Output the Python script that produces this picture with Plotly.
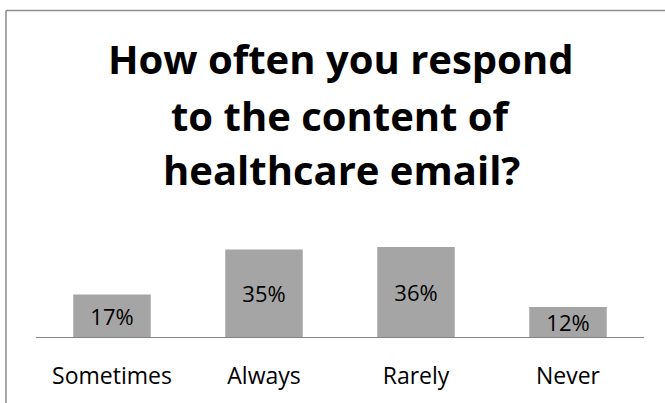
import plotly.graph_objects as go

categories = ["Sometimes", "Always", "Rarely", "Never"]
values = [17, 35, 36, 12]
labels = [f"{v}%" for v in values]

title_lines = ["How often you respond", "to the content of", "healthcare email?"]
title_centers_px = [54.5, 113.5, 168.5]

W, H = 665, 403
ml, mr, mt, mb = 36, 21, 237, 64
pw = W - ml - mr
ph = H - mt - mb

fig = go.Figure(
    go.Bar(
        x=categories,
        y=values,
        text=labels,
        textposition="inside",
        insidetextanchor="middle",
        constraintext="none",
        textfont=dict(family="Open Sans", size=22, color="#000000"),
        marker=dict(color="#a5a5a5", line=dict(width=0)),
        hoverinfo="skip",
    )
)

# outer chart border (left and top visible, rest cropped)
bx = (6 - ml) / pw
by = (H - mb - 6) / ph
fig.add_shape(type="line", xref="paper", yref="paper", x0=bx, x1=bx, y0=-2, y1=by,
              line=dict(color="#8c8c8c", width=1.5))
fig.add_shape(type="line", xref="paper", yref="paper", x0=bx, x1=1.2, y0=by, y1=by,
              line=dict(color="#8c8c8c", width=1.5))

for line, cy in zip(title_lines, title_centers_px):
    fig.add_annotation(
        text="<b>" + line + "</b>",
        xref="paper", yref="paper",
        x=(341 - ml) / pw, y=(H - mb - cy) / ph,
        xanchor="center", yanchor="middle",
        showarrow=False,
        font=dict(family="Open Sans", size=40, color="#000000"),
    )

fig.update_layout(
    width=W,
    height=H,
    margin=dict(l=ml, r=mr, t=mt, b=mb),
    paper_bgcolor="white",
    plot_bgcolor="white",
    showlegend=False,
    bargap=0.49,
    xaxis=dict(
        showline=True,
        linecolor="#868686",
        linewidth=1,
        showgrid=False,
        zeroline=False,
        ticks="",
        ticklabelstandoff=18,
        tickfont=dict(family="Open Sans", size=23, color="#000000"),
    ),
    yaxis=dict(visible=False, range=[0, 40], showgrid=False, zeroline=False),
)

fig.write_html("out.html")
